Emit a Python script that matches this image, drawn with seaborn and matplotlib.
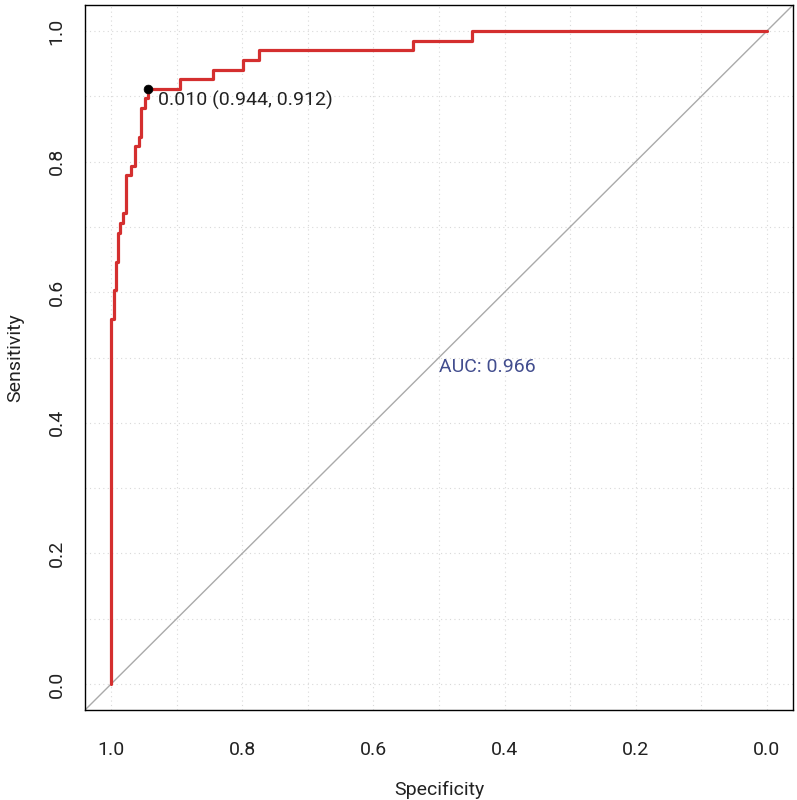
import pandas as pd
import seaborn as sns
import matplotlib.pyplot as plt

# ROC steps: specificity where sensitivity jumps, and the new sensitivity
spec_steps = [1.000, 0.9965, 0.9954, 0.9934, 0.9924, 0.9904, 0.9863, 0.982, 0.9776,
              0.9695, 0.9634, 0.957, 0.954, 0.948, 0.944, 0.895, 0.844, 0.799, 0.775,
              0.539, 0.449, 0.0]
sens_tops = [0.559, 0.574, 0.603, 0.618, 0.647, 0.691, 0.706, 0.721, 0.779,
             0.794, 0.824, 0.838, 0.882, 0.897, 0.912, 0.926, 0.941, 0.956, 0.971,
             0.985, 1.0, 1.0]

best_thres = 0.010
best_spec = 0.944
best_sens = 0.912
auc_value = 0.966

tick_vals = [0.0, 0.2, 0.4, 0.6, 0.8, 1.0]
grid_vals = [i / 10 for i in range(11)]

# build the staircase vertices (vertical, then horizontal)
xs = [spec_steps[0]]
ys = [0.0]
for i in range(len(spec_steps)):
    xs.append(spec_steps[i])
    ys.append(sens_tops[i])
    if i + 1 < len(spec_steps):
        xs.append(spec_steps[i + 1])
        ys.append(sens_tops[i])
roc = pd.DataFrame({"Specificity": xs, "Sensitivity": ys})

sns.set_style("white")
plt.rcParams['font.family'] = ['Roboto', 'DejaVu Sans']
plt.rcParams['text.color'] = '#222222'
plt.rcParams['axes.labelcolor'] = '#222222'
plt.rcParams['xtick.color'] = 'black'
plt.rcParams['ytick.color'] = 'black'
plt.rcParams['xtick.labelcolor'] = '#222222'
plt.rcParams['ytick.labelcolor'] = '#222222'

fig = plt.figure(figsize=(7.97, 8.0), dpi=100)
ax = fig.add_axes([85 / 797, 1 - 710 / 800, (793 - 85) / 797, (710 - 5) / 800])

# dotted grid
for g in grid_vals:
    ax.axvline(g, color="#d9d9d9", lw=0.8, ls=(0, (1, 3)), zorder=0)
    ax.axhline(g, color="#d9d9d9", lw=0.8, ls=(0, (1, 3)), zorder=0)

# chance diagonal
ax.axline((1, 0), (0, 1), color="#aaaaaa", lw=1.0, zorder=1)

sns.lineplot(data=roc, x="Specificity", y="Sensitivity", sort=False, estimator=None,
             color="#d42f2f", lw=2.3, ax=ax, zorder=3)
sns.scatterplot(x=[best_spec], y=[best_sens], color="black", s=40, ax=ax, zorder=4,
                edgecolor="black")

ax.text(best_spec - 0.015, best_sens - 0.003, f"{best_thres:.3f} ({best_spec:.3f}, {best_sens:.3f})",
        ha="left", va="top", fontsize=14)
ax.text(0.5, 0.5, f"AUC: {auc_value:.3f}", ha="left", va="top", fontsize=14, color="#424d8e")

ax.set_xlim(1.04, -0.04)
ax.set_ylim(-0.04, 1.04)
ax.set_xticks(tick_vals)
ax.set_yticks(tick_vals)
ax.set_xticklabels([f"{v:.1f}" for v in tick_vals])
ax.set_yticklabels([f"{v:.1f}" for v in tick_vals], rotation=90, va="center")
ax.tick_params(direction="out", length=7, width=1, labelsize=14)
ax.tick_params(axis="x", pad=15)
ax.tick_params(axis="y", pad=7)
ax.set_xlabel("Specificity", fontsize=14, labelpad=16)
ax.set_ylabel("Sensitivity", fontsize=14, labelpad=17)
for sp in ax.spines.values():
    sp.set_color("black")
    sp.set_linewidth(1.0)

fig.savefig("out.png", dpi=100)
